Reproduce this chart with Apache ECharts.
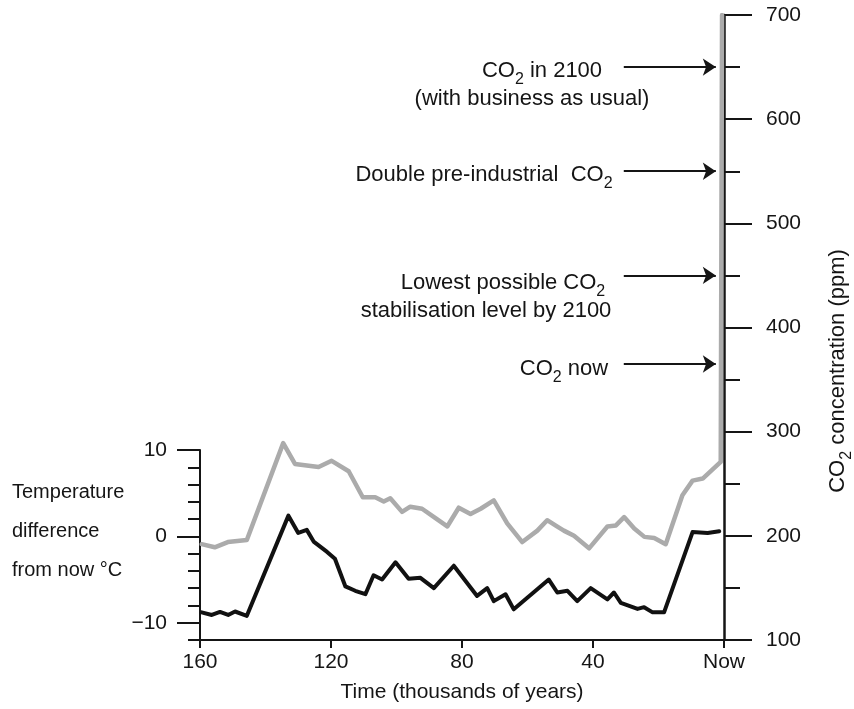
<!DOCTYPE html>
<html>
<head>
<meta charset="utf-8">
<script src="https://cdn.jsdelivr.net/npm/echarts@6/dist/echarts.min.js"></script>
<style>
html,body{margin:0;padding:0;background:#fff;}
#chart{width:854px;height:709px;}
</style>
</head>
<body>
<div id="chart"></div>
<script>
// ---- data ----
// Temperature difference from now (°C), black line, age in thousands of years
const tempAges   = [159.5,156.4,153.9,151.4,149.3,145.7,133,130,127.4,125.3,121.2,118.8,115.6,112.6,109.5,107,104.4,100.3,96.3,92.7,88.6,82.5,75.4,72.3,70.3,66.7,64.2,53.5,50.9,47.8,44.8,40.7,35.6,33.6,31.5,26.4,24.4,21.8,18.3,17.7,9.6,5.0,1.45];
const tempValues = [-8.8,-9.1,-8.75,-9.1,-8.7,-9.2,2.4,0.4,0.75,-0.6,-1.8,-2.6,-5.8,-6.3,-6.7,-4.5,-5.0,-3.0,-4.9,-4.8,-6.0,-3.4,-6.9,-6.0,-7.5,-6.7,-8.45,-5.0,-6.5,-6.3,-7.5,-6.0,-7.3,-6.5,-7.7,-8.4,-8.2,-8.8,-8.8,-9.0,0.5,0.4,0.6];
// CO2 concentration (ppm), grey line
const co2Ages   = [159.5,155.5,151.5,145.7,134.6,131,123.8,119.8,114.6,110.3,106.5,103.9,101.9,98.3,95.8,92.2,88.1,84.5,81,77.4,74.3,70.3,66.2,61.6,57,54,51,48.9,45.8,41.2,35.6,33,30.5,27.4,24.3,21.3,17.8,12.7,9.6,6.5,1.0,0.6];
const co2Values = [192,189,194,196,289,269,266,272,262,237,237,233,236,223,228,226,217,209,227,221,226,234,212,194,205,215,209,205,200,188,209,210,218,207,199,198,192,239,253,255,271,700];
// Reference CO2 levels marked with arrows (ppm)
const arrowLevels = [650, 550, 450, 365];
// Tick labels
const tempTickLabels = [-10, 0, 10];
const timeTicks = [160, 120, 80, 40, 0];

const FONT = 'Liberation Sans, Arial, Helvetica, sans-serif';
const INK = '#151515';

const tempData = tempAges.map((a, i) => [a, tempValues[i]]);
const co2Data = co2Ages.map((a, i) => [a, co2Values[i]]);

const chart = echarts.init(document.getElementById('chart'), null, {renderer: 'canvas'});

const sub = {fontSize: 16, fontFamily: FONT, fill: INK, padding: [17, 0, 0, 0]};
function note(text, x, y) {
  return {
    type: 'text', x: x, y: y, z: 10,
    style: {
      text: text, fill: INK, fontSize: 22, fontFamily: FONT,
      align: 'center', verticalAlign: 'middle',
      rich: {s: sub}
    }
  };
}

const option = {
  animation: false,
  backgroundColor: '#ffffff',
  textStyle: {fontFamily: FONT, color: INK},
  grid: [
    {left: 200, right: 130, top: 450, height: 190, containLabel: false, outerBoundsMode: 'none'},
    {left: 200, right: 130, top: 15, height: 625, containLabel: false, outerBoundsMode: 'none'}
  ],
  xAxis: [
    {
      gridIndex: 0, type: 'value', min: 0, max: 160, interval: 40, inverse: true,
      axisLine: {show: true, onZero: false, lineStyle: {color: INK, width: 2}},
      axisTick: {show: true, length: 8, lineStyle: {color: INK, width: 2}},
      axisLabel: {
        margin: 12, fontSize: 21, fontFamily: FONT, color: INK,
        formatter: v => (timeTicks.indexOf(v) >= 0 ? (v === 0 ? 'Now' : String(v)) : '')
      },
      splitLine: {show: false},
      name: 'Time (thousands of years)', nameLocation: 'middle', nameGap: 42,
      nameTextStyle: {fontSize: 21, fontFamily: FONT, color: INK}
    },
    {gridIndex: 1, type: 'value', min: 0, max: 160, inverse: true, show: false, axisLine: {onZero: false}}
  ],
  yAxis: [
    {
      gridIndex: 0, type: 'value', position: 'left', min: -12, max: 10, interval: 2,
      axisLine: {show: true, onZero: false, lineStyle: {color: INK, width: 2}},
      axisTick: {show: true, length: 12, lineStyle: {color: INK, width: 2}},
      axisLabel: {
        margin: 33, fontSize: 21, fontFamily: FONT, color: INK,
        formatter: v => (tempTickLabels.indexOf(v) >= 0 ? (v < 0 ? '\u2212' + Math.abs(v) : String(v)) : '')
      },
      splitLine: {show: false}
    },
    {
      gridIndex: 0, type: 'value', position: 'left', min: -12, max: 10,
      axisLine: {show: false, onZero: false},
      axisTick: {show: true, length: 23, customValues: tempTickLabels, lineStyle: {color: INK, width: 2}},
      axisLabel: {show: false},
      splitLine: {show: false}
    },
    {
      gridIndex: 1, type: 'value', position: 'right', min: 100, max: 700, interval: 100,
      axisLine: {show: true, onZero: false, lineStyle: {color: INK, width: 2.5}},
      axisTick: {show: true, length: 28, lineStyle: {color: INK, width: 2}},
      minorTick: {show: true, splitNumber: 2, length: 16, lineStyle: {color: INK, width: 2}},
      axisLabel: {margin: 42, fontSize: 21, fontFamily: FONT, color: INK},
      splitLine: {show: false},
      minorSplitLine: {show: false}
    }
  ],
  graphic: [
    {
      type: 'text', left: 12, top: 473, z: 10,
      style: {
        text: 'Temperature\ndifference\nfrom now \u00B0C',
        fill: INK, fontSize: 20, fontFamily: FONT, lineHeight: 39
      }
    },
    {
      type: 'text', x: 838, y: 371, rotation: Math.PI / 2, z: 10,
      style: {
        text: 'CO{s|2} concentration (ppm)', fill: INK, fontSize: 22, fontFamily: FONT,
        align: 'center', verticalAlign: 'middle', rich: {s: sub}
      }
    },
    note('CO{s|2} in 2100', 542, 71),
    note('(with business as usual)', 532, 99),
    note('Double pre-industrial  CO{s|2}', 484, 175),
    note('Lowest possible CO{s|2}', 503, 283),
    note('stabilisation level by 2100', 486, 311),
    note('CO{s|2} now', 564, 369)
  ],
  series: [
    {
      type: 'line', name: 'CO2', xAxisIndex: 1, yAxisIndex: 2,
      data: co2Data, symbol: 'none', smooth: false, z: 2,
      lineStyle: {color: '#ababab', width: 4.5, join: 'round', cap: 'round'},
      markLine: {
        silent: true, symbol: ['none', 'arrow'], symbolSize: 13,
        lineStyle: {color: INK, width: 2, type: 'solid'},
        label: {show: false},
        data: arrowLevels.map(v => [{coord: [30.6, v]}, {coord: [2.5, v]}])
      }
    },
    {
      type: 'line', name: 'Temperature', xAxisIndex: 0, yAxisIndex: 0,
      data: tempData, symbol: 'none', smooth: false, z: 3,
      lineStyle: {color: '#111111', width: 4, join: 'round', cap: 'round'}
    }
  ]
};
chart.setOption(option);
</script>
</body>
</html>
